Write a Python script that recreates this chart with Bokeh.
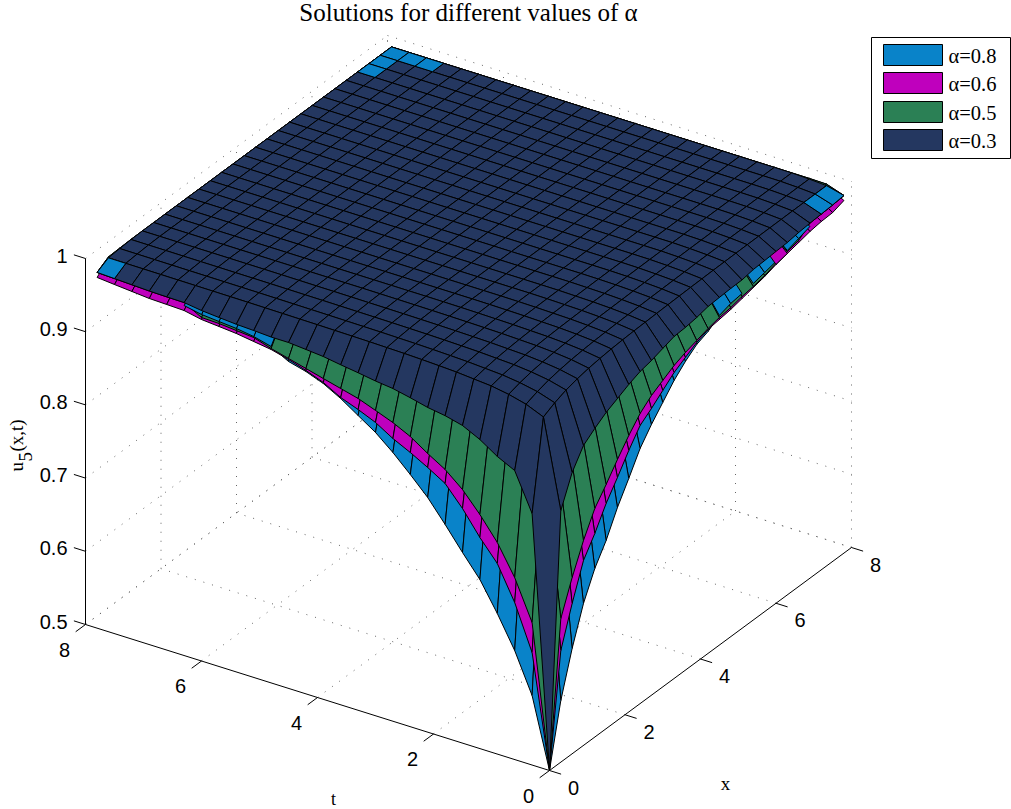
from math import pi
from bokeh.plotting import figure
from bokeh.models import Range1d
from bokeh.core.properties import value
from bokeh.embed import file_html
from bokeh.resources import INLINE

# ---- data ----------------------------------------------------------------
STEP = 0.3
TITLE = "Solutions for different values of \u03b1"
X_TICKS = [0, 2, 4, 6, 8]
T_TICKS = [0, 2, 4, 6, 8]
Z_TICKS = [0.5, 0.6, 0.7, 0.8, 0.9, 1.0]
Z_LABELS = ["0.5", "0.6", "0.7", "0.8", "0.9", "1"]
LEGEND = ["\u03b1=0.8", "\u03b1=0.6", "\u03b1=0.5", "\u03b1=0.3"]
COLORS = ["#0983c9", "#bf00bd", "#2b8055", "#243760"]

# u on the edge x=0, for t = 0, 0.3, ... 7.8
dark_t = [.5,.8436,.8948,.9066,.9222,.9339,.9399,.9436,.9494,.9545,.9573,.9611,.9645,.9683,.9705,.9725,.9725,.9739,.975,.9768,.9788,.9822,.9825,.983,.984,.985,.986]
green_t = [.5,.6947,.7486,.7891,.8198,.8464,.8664,.8807,.8964,.9080,.9171,.9260,.9321,.9383,.9445,.9507,.9568,.9643,.9665,.9686,.9693,.9822,.9825,.983,.984,.985,.986]
magenta_t = [.5,.6537,.7145,.7604,.7884,.8205,.8473,.8616,.8746,.8862,.9007,.9109,.9198,.9328,.9418,.9493,.9555,.9589,.9624,.9645,.9665,.9713,.9721,.9728,.9749,.9769,.9791]
blue_t = [.5,.5949,.6489,.6921,.7310,.7604,.7913,.8206,.8445,.8671,.8870,.9027,.9184,.9314,.9404,.9466,.9596,.9657,.9693,.9713,.9734,.9781,.9825,.983,.984,.985,.986]

# u on the edge t=0, for x = 0, 0.3, ... 7.8
dark_x = [.5,.8437,.8843,.9097,.9216,.9320,.9396,.9474,.9537,.9572,.9623,.9672,.9682,.9704,.9739,.9749,.9757,.976,.9788,.9796,.9806,.9814,.9836,.985,.986,.987,.9885]
green_x = [.5,.6962,.7408,.7799,.8123,.8336,.8563,.8777,.8963,.9094,.9186,.9276,.9340,.9389,.9438,.9475,.9495,.9533,.9556,.9590,.9642,.9691,.9727,.985,.986,.987,.9885]
magenta_x = [.5,.6525,.7053,.7526,.7781,.8077,.8317,.8572,.8799,.8917,.9049,.9180,.9272,.9362,.9425,.9448,.9470,.9505,.9542,.9578,.9628,.9664,.9699,.9736,.9758,.9766,.9817]
blue_x = [.5,.5842,.6439,.6939,.7303,.7571,.7907,.8190,.8485,.8698,.8885,.9071,.9217,.9335,.9398,.9503,.9552,.9574,.9597,.9633,.9669,.9705,.9754,.9805,.986,.987,.9885]

# u on the first inner grid line of the top surface
dark_row_t = [.964,.974,.980,.984,.986,.988,.9892,.9902,.991,.9915,.992,.9923,.9926,.9929,.9931,.9933,.9935,.9937,.9938,.9939,.994,.9941,.9942,.9943,.9944,.9945]
dark_row_x = [.964,.972,.978,.982,.985,.987,.9885,.9895,.9903,.9908,.9913,.9918,.9922,.9926,.9929,.9932,.9934,.9936,.9938,.9939,.994,.9941,.9942,.9943,.9944,.9945]
CEILING = 0.997
HIDDEN_SHARE = 0.3

# cells (x index, t index) where another surface shows through
blue_strip_cells = [(0, 16), (0, 17), (0, 18), (0, 19), (0, 20),
                    (15, 0), (16, 0), (18, 0), (19, 0), (21, 0), (22, 0)]
magenta_strip_cells = [(20, 0)]
blue_top_cells = [(0, 25), (24, 0), (25, 0), (25, 25), (25, 24), (25, 23), (24, 25), (23, 25)]

# ---- view of the MATLAB box ----------------------------------------------
ORIGIN = (549.0, 770.0)
PER_X = (37.75, -27.875)
PER_T = (-58.0, -18.25)
PER_Z = -732.0
Z0 = 0.5


def project(x, t, z):
    return (ORIGIN[0] + PER_X[0] * x + PER_T[0] * t,
            ORIGIN[1] + PER_X[1] * x + PER_T[1] * t + PER_Z * (z - Z0))


def build(edge_t, edge_x, row_t=None, row_x=None):
    n = len(edge_t)
    if row_t is None:
        row_t = [1 - (1 - v) * HIDDEN_SHARE for v in edge_t[1:]]
        row_x = [1 - (1 - v) * HIDDEN_SHARE for v in edge_x[1:]]
    u = [[0.0] * n for _ in range(n)]
    for i in range(n):
        for j in range(n):
            if i == 0:
                u[i][j] = edge_t[j]
            elif j == 0:
                u[i][j] = edge_x[i]
            else:
                d = (1 - row_x[i - 1]) * (1 - row_t[j - 1]) / (1 - row_t[0])
                u[i][j] = min(1 - d, CEILING)
    return u


def cell(u, i, j):
    corners = [(i, j), (i + 1, j), (i + 1, j + 1), (i, j + 1)]
    pts = [project(a * STEP, b * STEP, u[a][b]) for a, b in corners]
    return [q[0] for q in pts], [q[1] for q in pts]


def draw_cells(u, cells, color):
    xs, ys = [], []
    for i, j in cells:
        a, b = cell(u, i, j)
        xs.append(a)
        ys.append(b)
    p.patches(xs, ys, fill_color=color, line_color="black", line_width=1.0)


p = figure(width=1011, height=809, output_backend="svg", toolbar_location=None,
           x_range=Range1d(0, 1011), y_range=Range1d(809, 0),
           min_border=0, outline_line_color=None, margin=(0, 0, 0, 0))
p.axis.visible = False
p.grid.visible = False
p.background_fill_color = "white"

DOT = dict(line_color="#555555", line_width=0.9, line_dash="1 8")
TOP = Z_TICKS[-1]
BOT = Z_TICKS[0]
X_MAX = X_TICKS[-1]
T_MAX = T_TICKS[-1]
gx, gy = [], []


def seg(a, b):
    pa, pb = project(*a), project(*b)
    gx.append([pa[0], pb[0]])
    gy.append([pa[1], pb[1]])


for v in X_TICKS[1:]:
    seg((v, 0, BOT), (v, T_MAX, BOT))
    seg((v, T_MAX, BOT), (v, T_MAX, TOP))
for v in T_TICKS[1:]:
    seg((0, v, BOT), (X_MAX, v, BOT))
    seg((X_MAX, v, BOT), (X_MAX, v, TOP))
seg((X_MAX, 0, BOT), (X_MAX, 0, TOP))
seg((0, T_MAX, BOT), (0, T_MAX, TOP))
for v in Z_TICKS:
    seg((0, T_MAX, v), (X_MAX, T_MAX, v))
    seg((X_MAX, T_MAX, v), (X_MAX, 0, v))
p.multi_line(gx, gy, **DOT)

# box axes
ax, ay = [], []
for a, b in [((0, 0, BOT), (X_MAX, 0, BOT)), ((0, 0, BOT), (0, T_MAX, BOT)),
             ((0, T_MAX, BOT), (0, T_MAX, TOP))]:
    pa, pb = project(*a), project(*b)
    ax.append([pa[0], pb[0]])
    ay.append([pa[1], pb[1]])
TICK = 0.2
for v in X_TICKS:
    pa, pb = project(v, 0, BOT), project(v, -TICK, BOT)
    ax.append([pa[0], pb[0]])
    ay.append([pa[1], pb[1]])
for v in T_TICKS:
    pa, pb = project(0, v, BOT), project(-TICK * 1.3, v, BOT)
    ax.append([pa[0], pb[0]])
    ay.append([pa[1], pb[1]])
for v in Z_TICKS:
    pa, pb = project(0, T_MAX, v), project(0, T_MAX + TICK, v)
    ax.append([pa[0], pb[0]])
    ay.append([pa[1], pb[1]])
p.multi_line(ax, ay, line_color="black", line_width=1)

SANS = value("Liberation Sans")
SERIF = value("Liberation Serif")
lab = dict(text_font=SANS, text_font_size="20px", text_color="black", text_baseline="middle")
xl = [project(v, 0, BOT) for v in X_TICKS]
p.text([q[0] + 24 for q in xl], [q[1] + 17 for q in xl], text=[str(v) for v in X_TICKS], text_align="center", **lab)
tl = [project(0, v, BOT) for v in T_TICKS]
p.text([q[0] - 21 for q in tl], [q[1] + 25 for q in tl], text=[str(v) for v in T_TICKS], text_align="center", **lab)
zl = [project(0, T_MAX, v) for v in Z_TICKS]
p.text([67] * len(zl), [q[1] - 3 for q in zl], text=Z_LABELS, text_align="right", **lab)

# surfaces
surf_blue = build(blue_t, blue_x)
surf_magenta = build(magenta_t, magenta_x)
surf_green = build(green_t, green_x)
surf_dark = build(dark_t, dark_x, dark_row_t, dark_row_x)
N = len(dark_t) - 1
order = [(i, j) for i in range(N - 1, -1, -1) for j in range(N - 1, -1, -1)]
draw_cells(surf_blue, order, COLORS[0])
draw_cells(surf_magenta, order, COLORS[1])
draw_cells(surf_green, order, COLORS[2])
draw_cells(surf_blue, blue_strip_cells, COLORS[0])
draw_cells(surf_magenta, magenta_strip_cells, COLORS[1])
draw_cells(surf_dark, order, COLORS[3])
draw_cells(surf_dark, blue_top_cells, COLORS[0])

# texts
p.text([468], [12], text=[TITLE], text_font=SERIF, text_font_size="25px",
       text_align="center", text_baseline="middle", text_color="black")
ser = dict(text_font=SERIF, text_color="black", text_baseline="middle", text_align="center")
p.text([333], [798], text=["t"], text_font_size="18px", **ser)
p.text([725], [783], text=["x"], text_font_size="19px", **ser)
rot = dict(text_font=SERIF, text_color="black", text_baseline="alphabetic", text_align="left", angle=pi / 2)
p.text([16], [471], text=["u"], text_font_size="19px", **rot)
p.text([25], [461], text=["5"], text_font_size="19px", **rot)
p.text([16], [451], text=["(x,t)"], text_font_size="19px", **rot)

# legend
p.quad(left=[871], right=[1010], top=[37], bottom=[158], fill_color="white", line_color="black", line_width=1)
swatch_top = [44, 72, 101, 129]
p.quad(left=[883] * 4, right=[942] * 4, top=swatch_top, bottom=[s + 21 for s in swatch_top],
       fill_color=COLORS, line_color="black", line_width=1)
p.text([948] * 4, [s + 11 for s in swatch_top], text=LEGEND, text_font=SERIF, text_font_size="20.5px",
       text_align="left", text_baseline="middle", text_color="black")

open("out.html", "w").write(file_html(p, INLINE))
